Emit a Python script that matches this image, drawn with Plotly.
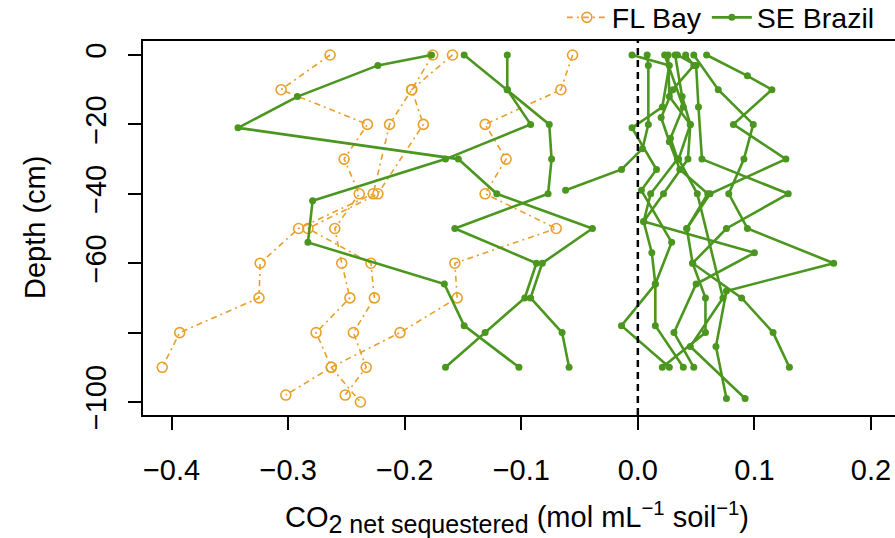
import plotly.graph_objects as go

# ---------------- data ----------------
# FL Bay cores (x: CO2 net sequestered, y: depth cm)
fl_a_depth = [0, -10, -20, -30, -40, -50, -60, -70, -80, -90, -100]
fl_a_val = [-0.264, -0.306, -0.232, -0.252, -0.239, -0.260, -0.254, -0.247, -0.276, -0.263, -0.238]
fl_b_depth = [0, -10, -20, -40, -50, -60, -70, -80, -90]
fl_b_val = [-0.176, -0.194, -0.213, -0.227, -0.291, -0.324, -0.325, -0.393, -0.408]
fl_c_depth = [0, -10, -20, -40, -50, -60, -70, -80, -90, -98]
fl_c_val = [-0.159, -0.194, -0.184, -0.223, -0.283, -0.229, -0.226, -0.244, -0.233, -0.251]
fl_d_depth = [0, -10, -20, -30, -40, -50, -60, -70, -80, -90, -98]
fl_d_val = [-0.056, -0.066, -0.131, -0.113, -0.131, -0.070, -0.157, -0.155, -0.204, -0.263, -0.302]

# SE Brazil cores
br_1_depth = [0, -3, -12, -21, -30, -40, -50, -60, -70, -80, -90]
br_1_val = [-0.177, -0.223, -0.292, -0.343, -0.154, -0.121, -0.039, -0.082, -0.092, -0.065, -0.059]
br_2_depth = [0, -10, -20, -30, -40, -50, -60, -70, -80, -90]
br_2_val = [-0.149, -0.112, -0.076, -0.074, -0.077, -0.157, -0.087, -0.097, -0.131, -0.165]
br_3_depth = [0, -10, -20, -30, -42, -54, -66, -78, -90]
br_3_val = [-0.112, -0.112, -0.092, -0.165, -0.279, -0.283, -0.166, -0.149, -0.102]
br_4_depth = [0, -6, -10, -20, -30, -40, -50, -60, -70, -80, -90]
br_4_val = [0.059, 0.094, 0.115, 0.082, 0.127, 0.062, 0.042, 0.047, 0.058, 0.058, 0.021]
br_5_depth = [0, -10, -20, -30, -40, -50, -60, -68, -84, -99]
br_5_val = [0.048, 0.069, 0.099, 0.091, 0.078, 0.094, 0.168, 0.076, 0.067, 0.076]
br_6_depth = [0, -3, -15, -30, -40, -50, -60, -70, -80, -90]
br_6_val = [0.034, 0.050, 0.052, 0.055, 0.129, 0.076, 0.047, 0.089, 0.116, 0.130]
br_7_depth = [0, -12, -20, -30, -40, -48, -57, -66, -80, -90]
br_7_val = [0.032, 0.038, 0.045, 0.043, 0.022, 0.005, 0.100, 0.050, 0.031, 0.048]
br_8_depth = [0, -15, -24, -30, -40, -48, -57, -66, -78, -90]
br_8_val = [0.023, 0.039, 0.028, 0.034, 0.011, 0.005, 0.012, 0.015, 0.015, 0.039]
br_9_depth = [0, -3, -20, -27, -33, -39]
br_9_val = [0.008, 0.009, 0.009, 0.004, -0.014, -0.062]
br_10_depth = [0, -3, -15, -21, -33, -39, -54, -66, -78, -90]
br_10_val = [-0.005, 0.027, 0.021, -0.005, 0.016, 0.003, 0.029, 0.015, -0.014, 0.027]
br_11_depth = [0, -12, -20, -30, -40, -70, -84, -99]
br_11_val = [0.026, 0.027, 0.045, 0.035, 0.051, 0.073, 0.045, 0.092]
br_12_depth = [0, -3, -10, -18, -25, -33, -40, -50]
br_12_val = [0.041, 0.048, 0.030, 0.020, 0.027, 0.036, 0.060, 0.042]

x_ticks = [-0.4, -0.3, -0.2, -0.1, 0.0, 0.1, 0.2]
x_tick_text = ["\u22120.4", "\u22120.3", "\u22120.2", "\u22120.1", "0.0", "0.1", "0.2"]
y_ticks = [0, -20, -40, -60, -80, -100]
y_tick_text = ["0", "\u221220", "\u221240", "\u221260", "", "\u2212100"]

fl_cores = [(fl_a_val, fl_a_depth), (fl_b_val, fl_b_depth), (fl_c_val, fl_c_depth), (fl_d_val, fl_d_depth)]
br_cores = [(br_1_val, br_1_depth), (br_2_val, br_2_depth), (br_3_val, br_3_depth),
            (br_4_val, br_4_depth), (br_5_val, br_5_depth), (br_6_val, br_6_depth),
            (br_7_val, br_7_depth), (br_8_val, br_8_depth), (br_9_val, br_9_depth),
            (br_10_val, br_10_depth), (br_11_val, br_11_depth), (br_12_val, br_12_depth)]

# ---------------- style ----------------
ORANGE = "#E8A02A"
GREEN = "#4A961F"
FONT = "Liberation Sans, Arial, Helvetica, sans-serif"

fig = go.Figure()
for i, (v, d) in enumerate(fl_cores):
    fig.add_trace(go.Scatter(
        x=v, y=d, mode="lines+markers", name="FL Bay", legendgroup="fl",
        showlegend=(i == 0),
        line=dict(color=ORANGE, width=1.6, dash="6px,4px,2px,4px"),
        marker=dict(symbol="circle-open", size=10, color=ORANGE,
                    line=dict(width=1.6, color=ORANGE)),
    ))
for i, (v, d) in enumerate(br_cores):
    fig.add_trace(go.Scatter(
        x=v, y=d, mode="lines+markers", name="SE Brazil", legendgroup="br",
        showlegend=(i == 0),
        line=dict(color=GREEN, width=2.6),
        marker=dict(symbol="circle", size=7, color=GREEN),
    ))

fig.add_shape(type="line", xref="x", yref="paper", x0=0, x1=0, y0=0, y1=1,
              line=dict(color="black", width=2.5, dash="7px,5px"), layer="above")

fig.update_layout(
    width=895, height=538,
    margin=dict(l=143, r=0, t=41, b=123, autoexpand=False),
    paper_bgcolor="white", plot_bgcolor="white",
    font=dict(family=FONT, size=28, color="black"),
    legend=dict(orientation="h", x=0.557, xanchor="left", y=1.062, yanchor="middle",
                font=dict(size=28.5), bgcolor="rgba(0,0,0,0)", itemwidth=40),
    showlegend=True,
)
fig.update_xaxes(range=[-0.4245, 0.2206], tickvals=x_ticks, ticktext=x_tick_text,
                 showline=True, linecolor="black", linewidth=2, mirror=True,
                 ticks="outside", ticklen=13, tickwidth=2, tickcolor="black",
                 showgrid=False, zeroline=False, ticklabelstandoff=15,
                 tickfont=dict(size=29))
fig.update_yaxes(range=[-103.75, 4.03], tickvals=y_ticks, ticktext=y_tick_text,
                 showline=True, linecolor="black", linewidth=2, mirror=False,
                 ticks="outside", ticklen=13, tickwidth=2, tickcolor="black",
                 showgrid=False, zeroline=False, tickangle=-90, ticklabelstandoff=10,
                 tickfont=dict(size=29))

fig.add_annotation(text="Depth (cm)", xref="paper", yref="paper", x=-0.1436, y=0.5,
                   textangle=-90, showarrow=False, xanchor="center", yanchor="middle",
                   font=dict(size=29))
fig.add_annotation(
    text="CO<sub><span style='font-size:25px'>2 net sequestered</span></sub> "
         "(mol mL<sup>\u22121</sup> soil<sup>\u22121</sup>)",
    xref="paper", yref="paper", x=0.497, y=-0.275, showarrow=False,
    xanchor="center", yanchor="middle", font=dict(size=29))

fig.write_html("out.html")
